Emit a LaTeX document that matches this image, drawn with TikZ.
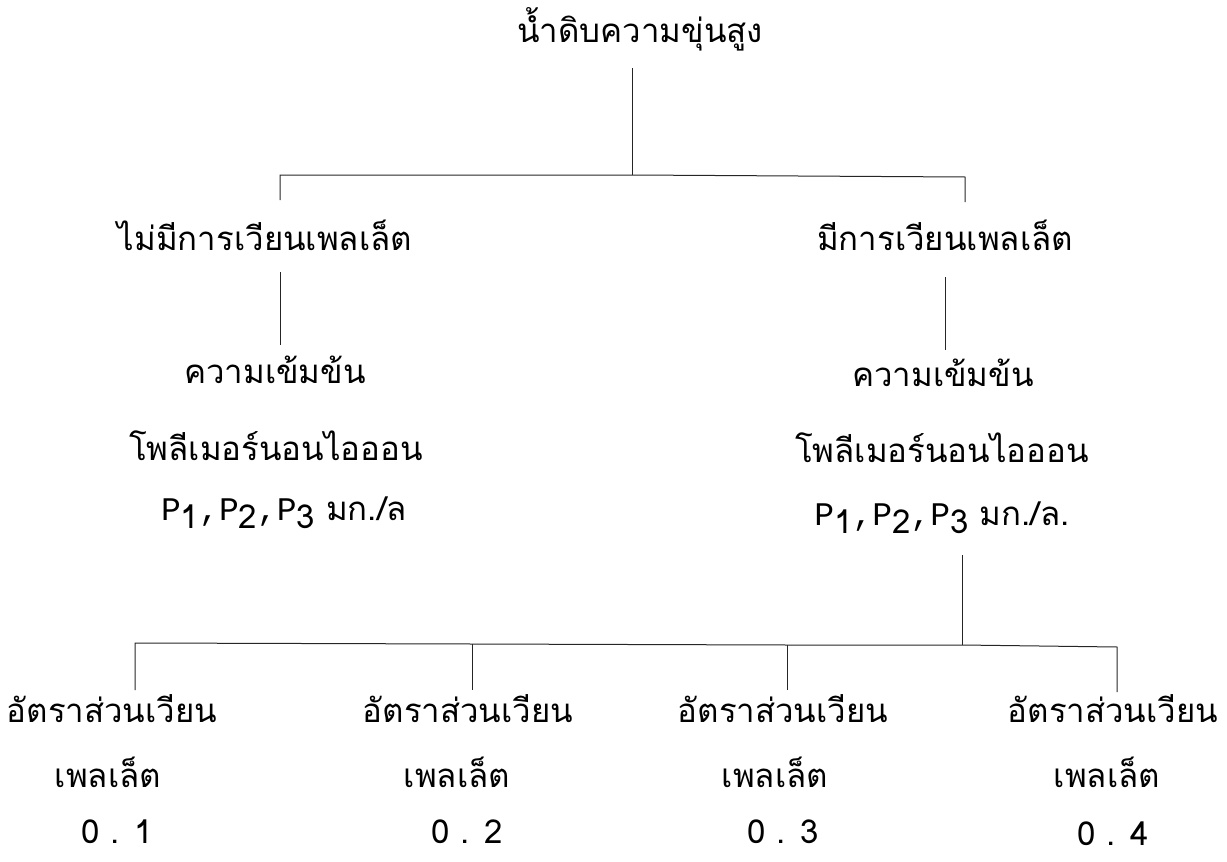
\documentclass[tikz,border=0pt]{standalone}
\usepackage{fontspec}
\newfontfamily\thai[Script=Thai]{Loma}
\newfontfamily\monof{Liberation Mono}
\newcommand{\subd}[1]{\raisebox{-0.5ex}{#1}}
\begin{document}
\begin{tikzpicture}[x=1pt,y=-1pt,
  lbl/.style={inner sep=0pt,anchor=base,font=\thai\fontsize{33}{36}\selectfont},
  conn/.style={line width=1pt,black!85}]
\useasboundingbox (0,0) rectangle (1227,862);
% nodes
\node[lbl] (title) at (640,42) {น้ำดิบความขุ่นสูง};
\node[lbl] (nomix) at (265,250) {ไม่มีการเวียนเพลเล็ต};
\node[lbl] (mix) at (945,250) {มีการเวียนเพลเล็ต};
\node[lbl] (cL1) at (275,383) {ความเข้มข้น};
\node[lbl] (cL2) at (276,460) {โพลีเมอร์นอนไอออน};
\node[lbl] (cL3) at (284,520) {{\monof P}\subd{1}{\monof ,P}\subd{2}{\monof ,P}\subd{3} มก./ล};
\node[lbl] (cR1) at (943,386) {ความเข้มข้น};
\node[lbl] (cR2) at (942,462) {โพลีเมอร์นอนไอออน};
\node[lbl] (cR3) at (942,525) {{\monof P}\subd{1}{\monof ,P}\subd{2}{\monof ,P}\subd{3} มก./ล.};
\node[lbl] (a1) at (112,722) {อัตราส่วนเวียน};
\node[lbl] (a2) at (468,722) {อัตราส่วนเวียน};
\node[lbl] (a3) at (783,722) {อัตราส่วนเวียน};
\node[lbl] (a4) at (1113,722) {อัตราส่วนเวียน};
\node[lbl] (b1) at (108,787) {เพลเล็ต};
\node[lbl] (b2) at (457,787) {เพลเล็ต};
\node[lbl] (b3) at (775,787) {เพลเล็ต};
\node[lbl] (b4) at (1107,787) {เพลเล็ต};
\node[lbl] (r1) at (117,843) {0 . 1};
\node[lbl] (r2) at (467,843) {0 . 2};
\node[lbl] (r3) at (783,843) {0 . 3};
\node[lbl] (r4) at (1113,845) {0 . 4};
% junctions
\coordinate (t1) at (632,68);
\coordinate (j1) at (632,175);
\coordinate (jL) at (280,175);
\coordinate (jR) at (965,177);
\coordinate (jLd) at (280,200);
\coordinate (jRd) at (965,202);
\coordinate (lv1) at (280,272);
\coordinate (lv2) at (280,345);
\coordinate (rv1) at (945,277);
\coordinate (rv2) at (945,350);
\coordinate (rb1) at (962,555);
\coordinate (k0) at (962,645);
\coordinate (k1) at (135,643);
\coordinate (k2) at (472,644);
\coordinate (k3) at (787,645);
\coordinate (k4) at (1117,647);
\coordinate (d1) at (135,690);
\coordinate (d2) at (472,690);
\coordinate (d3) at (787,690);
\coordinate (d4) at (1117,692);
% connectors
\draw[conn] (t1) -- (j1);
\draw[conn] (jLd) -- (jL) -- (j1) -- (jR) -- (jRd);
\draw[conn] (lv1) -- (lv2);
\draw[conn] (rv1) -- (rv2);
\draw[conn] (rb1) -- (k0);
\draw[conn] (d1) -- (k1) -- (k2) -- (k3) -- (k0) -- (k4) -- (d4);
\draw[conn] (k2) -- (d2);
\draw[conn] (k3) -- (d3);
\end{tikzpicture}
\end{document}
